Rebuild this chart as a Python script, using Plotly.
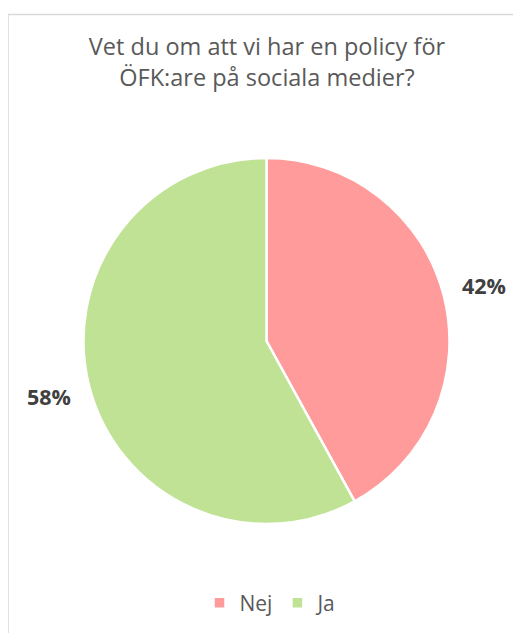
import math
import plotly.graph_objects as go

labels = ["Nej", "Ja"]
values = [42, 58]
colors = ["#FF9B9B", "#C0E295"]

W, H = 521, 633
OFF = 8  # page body margin offset of the plot div
CX, CY, R = 266.5 - OFF, 341 - OFF, 183
LABEL_R = 225

fig = go.Figure(go.Pie(
    labels=labels,
    values=values,
    marker=dict(colors=colors, line=dict(color="white", width=2.5)),
    sort=False,
    direction="clockwise",
    rotation=0,
    textinfo="none",
    domain=dict(x=[(CX - R) / W, (CX + R) / W], y=[(H - CY - R) / H, (H - CY + R) / H]),
    hoverinfo="label+percent",
))

# percent labels placed outside the slices at their mid-angles
total = sum(values)
annotations = []
cum = 0
for lab, v in zip(labels, values):
    mid = (cum + v / 2) / total * 2 * math.pi
    cum += v
    px = CX + LABEL_R * math.sin(mid)
    py = CY - LABEL_R * math.cos(mid)
    annotations.append(dict(
        x=px / W, y=(H - py) / H, xref="paper", yref="paper",
        text=f"{round(v / total * 100)}%", showarrow=False,
        xanchor="center", yanchor="middle",
        font=dict(family="Open Sans", size=21.5, color="#404040", weight="bold"),
    ))

fig.update_layout(
    width=W, height=H,
    margin=dict(l=0, r=0, t=0, b=0),
    paper_bgcolor="white",
    plot_bgcolor="white",
    title=dict(
        text="Vet du om att vi har en policy för<br>ÖFK:are på sociala medier?",
        x=(267 - OFF) / W, xanchor="center", y=(H - 31 - 24 + OFF) / H, yanchor="top",
        font=dict(family="Open Sans", size=23.5, color="#595959"),
    ),
    legend=dict(
        orientation="h", x=(271 - OFF) / W, xanchor="center", y=(H - 603 + OFF) / H, yanchor="middle",
        font=dict(family="Open Sans", size=21, color="#595959"),
    ),
    annotations=annotations,
    shapes=[dict(
        type="rect", xref="paper", yref="paper",
        x0=(7.5 - OFF + 0.5) / W, x1=1.05, y0=-0.05, y1=(H - 14.5 + OFF) / H,
        line=dict(color="#D9D9D9", width=1.5),
    )],
)

fig.write_html("out.html")
